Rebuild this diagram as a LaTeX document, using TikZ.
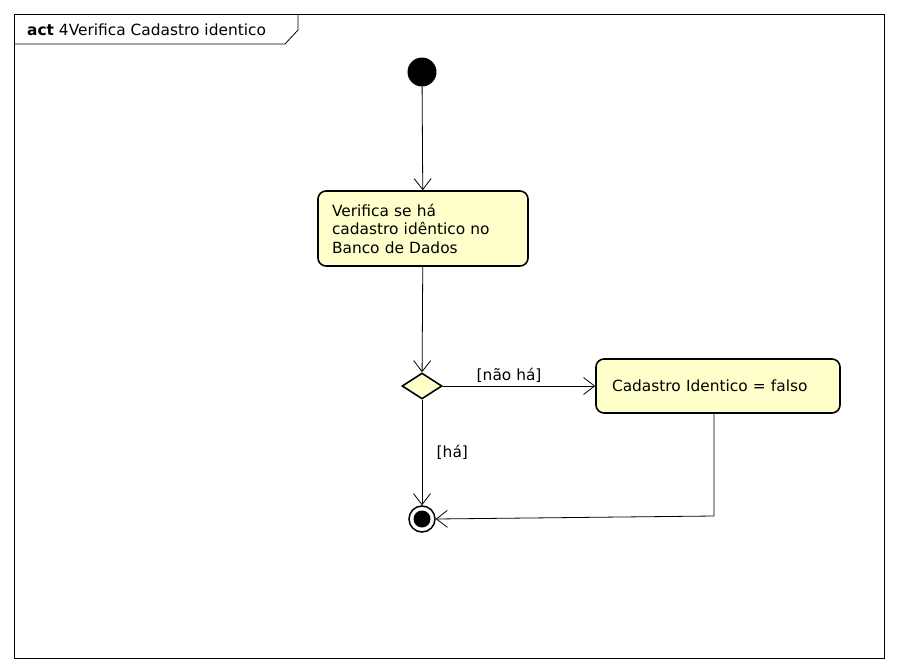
\documentclass[tikz,border=0pt]{standalone}
\usepackage{fontspec}
\setmainfont{DejaVu Sans}
\usetikzlibrary{positioning, arrows.meta, shapes.geometric}
\definecolor{actfill}{HTML}{FFFFCC}
\tikzset{
action/.style={draw, rounded corners=8pt, fill=actfill, line width=1.6pt, align=left, inner ysep=0pt, font=\fontsize{15.4}{18.5}\selectfont},
decision/.style={diamond, draw, fill=actfill, line width=1.6pt, minimum width=40pt, minimum height=26pt, inner sep=0pt},
initial/.style={circle, fill=black, minimum size=29pt, inner sep=0pt},
final/.style={circle, draw, line width=1.5pt, fill=white, minimum size=26pt, inner sep=0pt, path picture={\fill[black] (path picture bounding box.center) circle (8.5pt);}},
guard/.style={font=\fontsize{15.4}{18}\selectfont},
flow/.style={-{Straight Barb[length=11pt, width=17pt]}, line width=0.8pt}}

\begin{document}
\begin{tikzpicture}[x=1pt, y=-1pt]
\useasboundingbox (0,0) rectangle (897,672);
% frame
\draw[line width=0.8pt] (14,14) rectangle (884,658);
\draw[line width=0.8pt] (14,44) -- (285,44) -- (298,30) -- (298,14);
\node[anchor=west, guard, inner sep=0pt] (title) at (27,30) {\textbf{act} 4Verifica Cadastro identico};

\node [initial] at (422,72) (start) {};
\node [action, minimum width=210pt, minimum height=75pt, text width=182pt] at (423,228.5) (check) {Verifica se há\\cadastro idêntico no\\Banco de Dados};
\node [decision] at (422,386) (dec) {};
\node [action, minimum width=244pt, minimum height=54pt, text width=212pt] at (718,386) (setfalse) {Cadastro Identico = falso};
\node [final] at (422,519) (stop) {};
\coordinate (bend) at (714,516);

\draw [flow] (start) -- (check);
\draw [flow] (check) -- (dec);
\draw [flow] (dec) -- node[guard, pos=0.435, above=0pt] (nohas) {[não há]} (setfalse);
\draw [flow] (dec) -- node[guard, right=11pt] (has) {[há]} (stop);
\draw [flow] (setfalse.south -| bend) -- (bend) -- (stop.east);
\end{tikzpicture}
\end{document}
